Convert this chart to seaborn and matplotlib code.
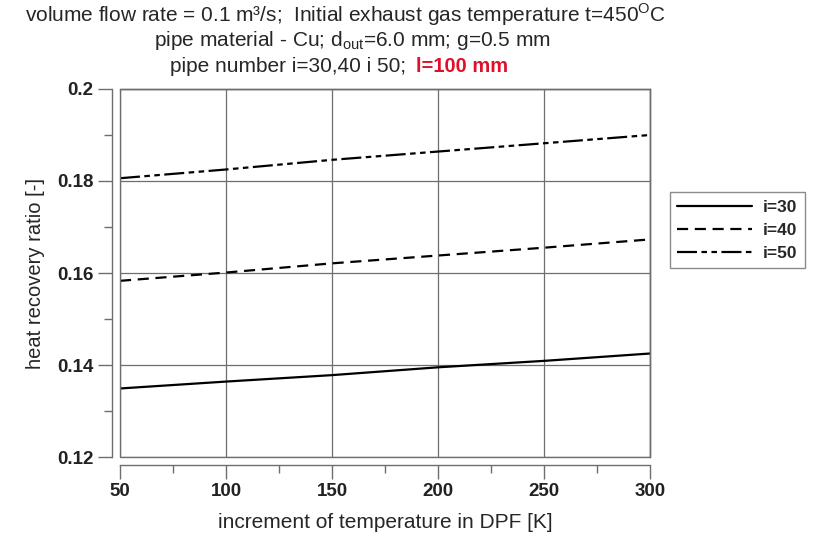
import seaborn as sns
import matplotlib.pyplot as plt
import matplotlib.patches as mpatches
import pandas as pd

# dane
dT = [50, 100, 150, 200, 250, 300]
i30 = [0.1349, 0.1364, 0.1378, 0.1395, 0.1409, 0.1425]
i40 = [0.1583, 0.1601, 0.1621, 0.1638, 0.1655, 0.1673]
i50 = [0.1806, 0.1825, 0.1846, 0.1864, 0.1882, 0.1900]
serie = ["i=30", "i=40", "i=50"]
yticks = [0.12, 0.14, 0.16, 0.18, 0.2]
yticklabels = ["0.12", "0.14", "0.16", "0.18", "0.2"]
xticks = [50, 100, 150, 200, 250, 300]

df = pd.DataFrame({
    "dT": dT * 3,
    "ratio": i30 + i40 + i50,
    "serie": [s for s in serie for _ in dT],
})

sns.set_style("white")
plt.rcParams["font.family"] = ["Liberation Sans", "DejaVu Sans"]

fig = plt.figure(figsize=(8.14, 5.39), dpi=100)
ax = fig.add_axes([0.1474, 0.1521, 0.6511, 0.6828])

cinza = "#6e6e6e"
estilos = {"i=30": "", "i=40": (5, 3), "i=50": (9, 2, 2.5, 2, 2.5, 2)}
sns.lineplot(data=df, x="dT", y="ratio", hue="serie", style="serie",
             palette=["black"] * 3, dashes=estilos, linewidth=1.6, ax=ax)

ax.set_xlim(50, 300)
ax.set_ylim(0.12, 0.2)
ax.set_xticks(xticks)
ax.set_xticklabels([str(v) for v in xticks])
ax.set_yticks(yticks)
ax.set_yticklabels(yticklabels)
ax.set_xticks([75, 125, 175, 225, 275], minor=True)
ax.set_yticks([0.13, 0.15, 0.17, 0.19], minor=True)
ax.grid(True, which="major", color=cinza, linewidth=0.9)

# osie odsunięte od ramki
ax.spines["left"].set_position(("outward", 6))
ax.spines["bottom"].set_position(("outward", 6))
for s in ax.spines.values():
    s.set_color(cinza)
    s.set_linewidth(1.0)
ax.add_patch(mpatches.Rectangle((0, 0), 1, 1, transform=ax.transAxes, fill=False,
                                edgecolor=cinza, linewidth=1.0, clip_on=False, zorder=3))
ax.tick_params(which="major", direction="out", length=10, width=1, color=cinza,
               labelsize=13.5, pad=3, bottom=True, left=True)
ax.tick_params(which="minor", direction="out", length=6, width=1, color=cinza,
               bottom=True, left=True)
for t in ax.get_xticklabels() + ax.get_yticklabels():
    t.set_fontweight("bold")
    t.set_color("#222222")

ax.set_xlabel("increment of temperature in DPF [K]", fontsize=15, labelpad=9)
ax.set_ylabel("heat recovery ratio [-]", fontsize=14.5, labelpad=9)

leg = ax.legend(loc="upper left", bbox_to_anchor=(661 / 814, 1 - 183 / 539),
                bbox_transform=fig.transFigure, frameon=True, fancybox=False,
                fontsize=12.5, handlelength=4.3, handletextpad=0.6,
                borderpad=0.45, labelspacing=0.45, title=None)
leg.get_frame().set_edgecolor(cinza)
leg.get_frame().set_linewidth(1.0)
for t in leg.get_texts():
    t.set_fontweight("bold")

# tytuł
fig.text(345 / 814, 1 - 15 / 539, r"volume flow rate = 0.1 m³/s;  Initial exhaust gas temperature t=450$^{\mathregular{O}}$C",
         ha="center", va="center", fontsize=15)
fig.text(352 / 814, 1 - 41 / 539, r"pipe material - Cu; d$_{\mathregular{out}}$=6.0 mm; g=0.5 mm",
         ha="center", va="center", fontsize=15)
fig.text(406 / 814, 1 - 66 / 539, "pipe number i=30,40 i 50;", ha="right", va="center", fontsize=15)
fig.text(416 / 814, 1 - 66 / 539, "l=100 mm", ha="left", va="center", fontsize=14.5,
         color="#e0102a", fontweight="bold")

fig.savefig("out.png", dpi=100)
